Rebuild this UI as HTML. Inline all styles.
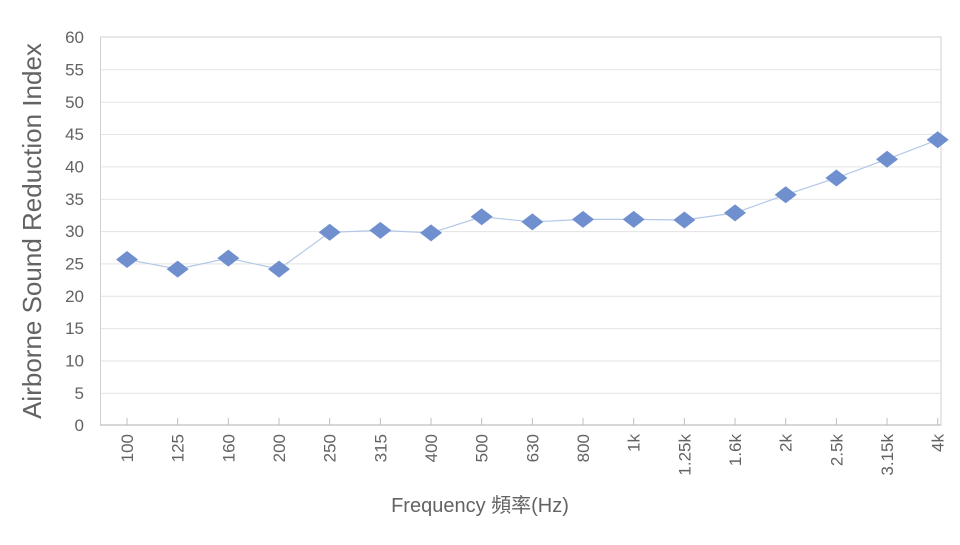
<!DOCTYPE html>
<html><head><meta charset="utf-8"><style>
html,body{margin:0;padding:0;background:#fff;}
svg text{font-family:"Liberation Sans","Noto Sans CJK TC",sans-serif;fill:#636363;}
</style></head><body>
<svg width="960" height="540" viewBox="0 0 960 540" xmlns="http://www.w3.org/2000/svg">
<g stroke="#e3e3e3" stroke-width="1">
<line x1="100" y1="69.8" x2="941" y2="69.8"/><line x1="100" y1="102.2" x2="941" y2="102.2"/>
<line x1="100" y1="134.5" x2="941" y2="134.5"/><line x1="100" y1="166.9" x2="941" y2="166.9"/>
<line x1="100" y1="199.2" x2="941" y2="199.2"/><line x1="100" y1="231.6" x2="941" y2="231.6"/>
<line x1="100" y1="263.9" x2="941" y2="263.9"/><line x1="100" y1="296.3" x2="941" y2="296.3"/>
<line x1="100" y1="328.6" x2="941" y2="328.6"/><line x1="100" y1="361" x2="941" y2="361"/>
<line x1="100" y1="393.3" x2="941" y2="393.3"/>
</g>
<rect x="100.5" y="37" width="840.5" height="388" fill="none" stroke="#d0d0d0" stroke-width="1"/>
<line x1="100" y1="425" x2="941" y2="425" stroke="#bfbfbf" stroke-width="1.2"/>
<g id="ticks" stroke="#bfbfbf"></g>
<g font-size="17" text-anchor="end">
<text x="84" y="43">60</text><text x="84" y="75.5">55</text><text x="84" y="108">50</text>
<text x="84" y="140">45</text><text x="84" y="172.5">40</text><text x="84" y="205">35</text>
<text x="84" y="237">30</text><text x="84" y="269.5">25</text><text x="84" y="302">20</text>
<text x="84" y="334">15</text><text x="84" y="366.5">10</text><text x="84" y="399">5</text>
<text x="84" y="431">0</text>
</g>
<text transform="translate(41,231) rotate(-90)" font-size="26" text-anchor="middle">Airborne Sound Reduction Index</text>
<text x="480" y="512" font-size="20" text-anchor="middle">Frequency 頻率(Hz)</text>
<g id="xl" font-size="17"></g>
<polyline id="ln" fill="none" stroke="#b4c7e7" stroke-width="1.2"/>
<g id="mk" fill="#6f8fcf"></g>
</svg>
<script>
var labels=["100","125","160","200","250","315","400","500","630","800","1k","1.25k","1.6k","2k","2.5k","3.15k","4k"];
var vals=[25.6,24.1,25.8,24.1,29.8,30.1,29.7,32.2,31.4,31.8,31.8,31.7,32.8,35.6,38.2,41.1,44.1];
var NS="http://www.w3.org/2000/svg",pts=[];
function el(t,a,p){var e=document.createElementNS(NS,t);for(var k in a)e.setAttribute(k,a[k]);p.appendChild(e);return e;}
for(var i=0;i<17;i++){
 var x=127+i*50.67,y=425-vals[i]*6.467;
 pts.push(x+","+y);
 el("line",{x1:x,y1:418,x2:x,y2:425},document.getElementById("ticks"));
 var t=el("text",{transform:"translate("+(x+6)+",434) rotate(-90)","text-anchor":"end"},document.getElementById("xl"));t.textContent=labels[i];
 el("polygon",{points:(x-11)+","+y+" "+x+","+(y-8.5)+" "+(x+11)+","+y+" "+x+","+(y+8.5)},document.getElementById("mk"));
}
document.getElementById("ln").setAttribute("points",pts.join(" "));
</script>
</body></html>
